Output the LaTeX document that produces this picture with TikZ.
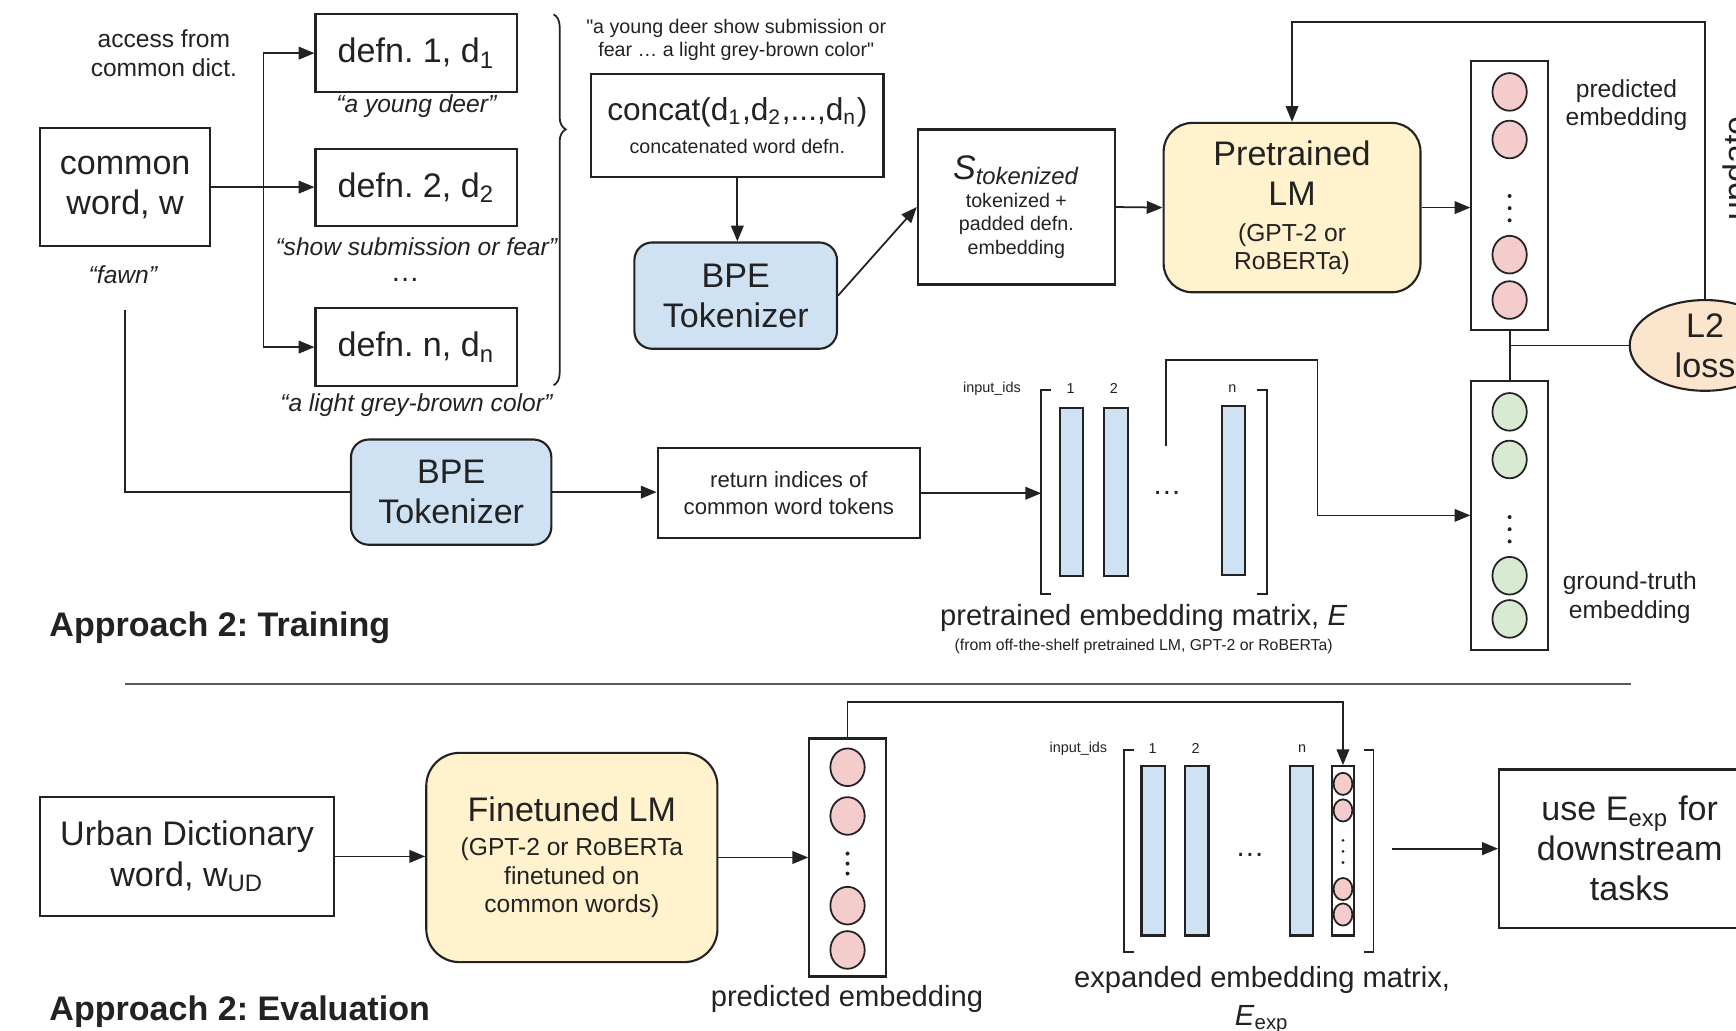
\documentclass[tikz,border=0pt]{standalone}
\usepackage{fontspec}
\setmainfont{Liberation Sans}
\usetikzlibrary{arrows.meta,shapes.geometric,decorations.pathreplacing}
\frenchspacing

\newlength\px
\setlength\px{0.011071cm}
\newcommand\lrg{\fontsize{9.7}{11.4}\selectfont}
\newcommand\mdm{\fontsize{8.3}{11}\selectfont}
\newcommand\sml{\fontsize{7}{8.2}\selectfont}
\newcommand\smr{\fontsize{6.3}{7.6}\selectfont}
\newcommand\tny{\fontsize{5.6}{6.6}\selectfont}
\newcommand\mic{\fontsize{4.5}{5.4}\selectfont}
\newcommand\nan{\fontsize{4.1}{5}\selectfont}
\newcommand\sq{{\addfontfeatures{Ligatures=TeXOff}"}}

\definecolor{ink}{HTML}{222222}
\definecolor{bpeblue}{HTML}{CFE2F3}
\definecolor{lmyellow}{HTML}{FFF2CC}
\definecolor{predpink}{HTML}{F4CCCC}
\definecolor{gtgreen}{HTML}{D9EAD3}
\definecolor{lossorange}{HTML}{FCE5CD}

\tikzset{
  box/.style={draw=ink, line width=0.6pt, inner sep=0pt, align=center, text=ink},
  dfn/.style={box, font=\lrg, minimum width=182\px, minimum height=70\px},
  tok/.style={box, font=\lrg, fill=bpeblue, rounded corners=16\px},
  lm/.style={box, font=\lrg, fill=lmyellow, rounded corners=26\px},
  vec/.style={draw=ink, line width=0.6pt, inner sep=0pt, minimum width=69\px, minimum height=243\px},
  pred/.style={ellipse, draw=ink, line width=0.5pt, fill=predpink, inner sep=0pt, minimum width=31\px, minimum height=34\px},
  gt/.style={pred, fill=gtgreen},
  spred/.style={pred, minimum width=17\px, minimum height=20\px},
  col/.style={draw=ink, line width=0.6pt, fill=bpeblue, inner sep=0pt, minimum width=21\px, minimum height=152\px},
  lbl/.style={text=ink, align=center, inner sep=0pt},
  wire/.style={draw=ink, line width=0.5pt},
  arr/.style={wire, -{Triangle[length=4.5pt,width=3.6pt]}},
  brace/.style={wire, decorate, decoration={brace, amplitude=11\px, aspect=0.31}},
}

\begin{document}
\begin{tikzpicture}[x=1\px, y=-1\px]
\useasboundingbox (0,0) rectangle (1568,931);

% training: definitions of the common word
\node[lbl, font=\sml] (acc) at (148,48) {access from\\common dict.};
\node[box, font=\lrg, minimum width=154\px, minimum height=106\px] (cw) at (113,169) {common\\word, w};
\node[lbl, font=\sml\itshape] (fawn) at (111,248) {“fawn”};
\node[dfn] (d1) at (376,48) {defn. 1, d\textsubscript{1}};
\node[dfn] (d2) at (376,169.5) {defn. 2, d\textsubscript{2}};
\node[dfn] (dn) at (376,313.5) {defn. n, d\textsubscript{n}};
\node[lbl, font=\sml\itshape] (q1) at (376,96) {“a young deer”};
\node[lbl, font=\sml\itshape] (q2) at (376,223) {“show submission or fear”};
\node[lbl, font=\mdm] (qd) at (366,253) {…};
\node[lbl, font=\sml\itshape] (qn) at (376,366) {“a light grey-brown color”};
\coordinate (br) at (238,169);
\draw[arr] (cw.east) -- (cw.east -| d2.west);
\draw[arr] (br) |- (d1);
\draw[arr] (br) |- (dn);
\draw[brace] (500,13) -- (500,348);

\node[lbl, font=\tny] (qall) at (665,36) {\sq a young deer show submission or\\fear … a light grey-brown color\sq};
\node[box, font=\tny, minimum width=264\px, minimum height=93\px] (cc) at (666,113.5)
  {{\fontsize{9}{10.5}\selectfont concat(d\textsubscript{1},d\textsubscript{2},...,d\textsubscript{n})}\\[2.8pt]concatenated word defn.};
\node[tok, minimum width=183\px, minimum height=96\px] (bpe1) at (664.5,267) {BPE\\Tokenizer};
\node[box, font=\tny, minimum width=178\px, minimum height=140\px] (st) at (918,187)
  {{\lrg\itshape S\textsubscript{tokenized}}\\[1.4pt]tokenized +\\padded defn.\\embedding};
\node[lm, minimum width=232\px, minimum height=153\px] (plm) at (1167,187.5)
  {Pretrained\\LM\\[-1.3pt]{\sml (GPT-2 or}\\[-3.5pt]{\sml RoBERTa)}};
\draw[arr] (cc.south) -- (cc.south |- bpe1.north);
\draw[arr] (bpe1.east) -- (st.west);
\draw[arr] (st.east) -- (plm.west);

% predicted and ground-truth vectors
\node[vec] (pv) at (1363.5,176.5) {};
\foreach \y in {83,126,230,271} \node[pred] (pc\y) at (1363.5,\y) {};
\foreach \y in {177,188,199} \fill[ink] (1363.5,\y) circle (1.8\px);
\draw[arr] (plm.east) -- (plm.east -| pv.west);
\node[lbl, font=\sml] (pvt) at (1469,95) {predicted\\embedding};
\node[ellipse, draw=ink, fill=lossorange, line width=0.6pt, inner sep=0pt, align=center, text=ink,
  font=\lrg, minimum width=136\px, minimum height=76\px] (l2) at (1540,312) {L2\\loss};
\node[vec] (gv) at (1363.5,465.5) {};
\foreach \y in {372,415,520,559} \node[gt] (gc\y) at (1363.5,\y) {};
\foreach \y in {467,478,489} \fill[ink] (1363.5,\y) circle (1.8\px);
\node[lbl, font=\sml] (gvt) at (1472,540) {ground-truth\\embedding};
\draw[wire] (pv.south) -- (gv.north);
\draw[wire] (pv.south |- l2.west) -- (l2.west);
\coordinate (fbtop) at (1168,20);
\draw[arr] (l2.north) |- (plm.north |- fbtop) -- (plm.north);
\node[lbl, font=\lrg, rotate=90, anchor=base] (upd) at (1578,152) {update};

% training: embedding matrix lookup
\node[tok, minimum width=181\px, minimum height=95\px] (bpe2) at (407.5,444.5) {BPE\\Tokenizer};
\coordinate (fw) at (113,280);
\draw[wire] (fw) |- (bpe2.west);
\node[box, font=\smr, minimum width=237\px, minimum height=81\px] (ret) at (712.5,445.5) {return indices of\\common word tokens};
\draw[arr] (bpe2.east) -- (bpe2.east -| ret.west);
\node[inner sep=0pt, minimum width=203\px, minimum height=183\px] (em) at (1042.5,444.5) {};
\draw[arr] (ret.east) -- (ret.east -| em.west);
\draw[wire] ([xshift=9\px]em.north west) -- (em.north west) -- (em.south west) -- ([xshift=9\px]em.south west);
\draw[wire] ([xshift=-9\px]em.north east) -- (em.north east) -- (em.south east) -- ([xshift=-9\px]em.south east);
\node[col] (e1) at (967.5,444.5) {};
\node[col] (e2) at (1008,444.5) {};
\node[col] (en) at (1114,443) {};
\node[lbl, font=\nan] (eids) at (896,351) {input\_ids};
\node[lbl, font=\nan] (e1l) at (967,351) {1};
\node[lbl, font=\nan] (e2l) at (1006,351) {2};
\node[lbl, font=\nan] (enl) at (1113,351) {n};
\node[lbl, font=\mdm] (edots) at (1054,445) {…};
\coordinate (etap) at (1053,403);
\coordinate (ebend) at (1190,325);
\draw[arr] (etap) |- (ebend) |- (gv.west);
\node[lbl, font=\mdm] (emt) at (1033,558) {pretrained embedding matrix, \textit{E}};
\node[lbl, font=\mic] (ems) at (1033,584) {(from off-the-shelf pretrained LM, GPT-2 or RoBERTa)};
\node[lbl, font=\lrg\bfseries, anchor=west] (tr) at (44,567) {Approach 2: Training};

\draw[black!65, line width=0.7pt] (113,618) -- (1473,618);

% evaluation
\node[box, font=\lrg, minimum width=266\px, minimum height=107\px] (ud) at (169,773.5) {Urban Dictionary\\word, w\textsubscript{UD}};
\node[lm, font=\sml, minimum width=263\px, minimum height=189\px, rounded corners=30\px] (flm) at (516.5,774.5)
  {{\lrg Finetuned LM}\\[1.4pt](GPT-2 or RoBERTa\\finetuned on\\common words)};
\node[vec, minimum height=215\px] (pv2) at (765.5,774.5) {};
\foreach \y in {693,737,818,858} \node[pred] (qc\y) at (765.5,\y) {};
\foreach \y in {771,780,789} \fill[ink] (765.5,\y) circle (1.8\px);
\node[lbl, font=\mdm] (pv2t) at (765,902) {predicted embedding};
\draw[arr] (ud.east) -- (ud.east -| flm.west);
\draw[arr] (flm.east) -- (flm.east -| pv2.west);

\node[inner sep=0pt, minimum width=224\px, minimum height=181\px] (ex) at (1128,768.5) {};
\draw[wire] ([xshift=9\px]ex.north west) -- (ex.north west) -- (ex.south west) -- ([xshift=9\px]ex.south west);
\draw[wire] ([xshift=-9\px]ex.north east) -- (ex.north east) -- (ex.south east) -- ([xshift=-9\px]ex.south east);
\node[col, minimum height=153\px] (x1) at (1041.5,768.5) {};
\node[col, minimum height=153\px] (x2) at (1081,768.5) {};
\node[col, minimum height=153\px] (xn) at (1175.5,768.5) {};
\node[vec, minimum width=20\px, minimum height=153\px] (sv) at (1213,768.5) {};
\foreach \y in {708,732,803,826} \node[spred] (sc\y) at (1213,\y) {};
\foreach \y in {759,769,779} \fill[ink] (1213,\y) circle (1.4\px);
\node[lbl, font=\nan] (xids) at (974,676) {input\_ids};
\node[lbl, font=\nan] (x1l) at (1041,676) {1};
\node[lbl, font=\nan] (x2l) at (1080,676) {2};
\node[lbl, font=\nan] (xnl) at (1176,676) {n};
\node[lbl, font=\mdm] (xdots) at (1129,772) {…};
\coordinate (fttop) at (1000,634);
\draw[arr] (pv2.north) |- (sv.north |- fttop) -- (sv.north);
\node[box, font=\lrg, minimum width=236\px, minimum height=143\px] (use) at (1472,766.5) {use E\textsubscript{exp} for\\downstream\\tasks};
\coordinate (exo) at ([xshift=17\px]ex.east);
\draw[arr] (exo |- use.west) -- (use.west);
\node[lbl, font=\mdm] (ext) at (1140,903) {expanded embedding matrix,\\\textit{E}\textsubscript{exp}};
\node[lbl, font=\lrg\bfseries, anchor=west] (ev) at (44,914) {Approach 2: Evaluation};
\end{tikzpicture}
\end{document}
